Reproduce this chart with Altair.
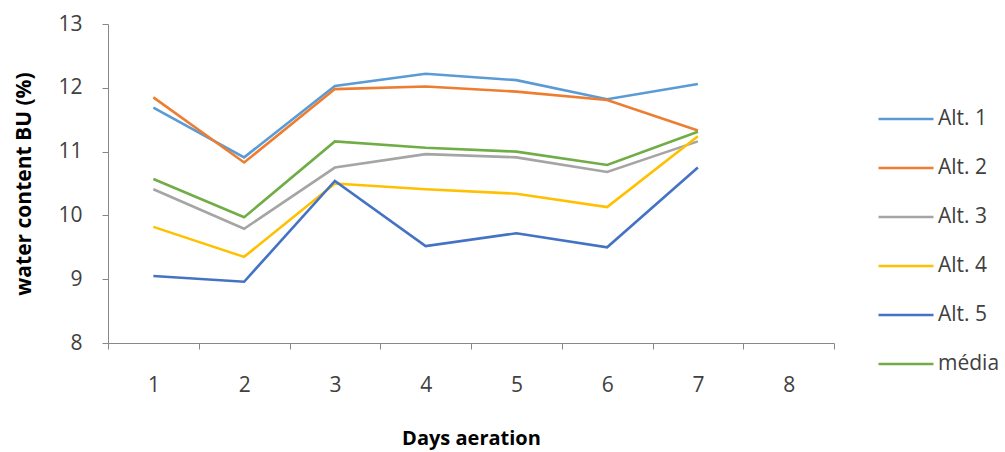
import altair as alt
import pandas as pd

# Days of aeration (x categories) and water content readings per series
days = [1, 2, 3, 4, 5, 6, 7]
all_days = [1, 2, 3, 4, 5, 6, 7, 8]
series_names = ["Alt. 1", "Alt. 2", "Alt. 3", "Alt. 4", "Alt. 5", "média"]
alt1 = [11.69, 10.91, 12.03, 12.22, 12.12, 11.82, 12.06]
alt2 = [11.85, 10.83, 11.98, 12.02, 11.94, 11.81, 11.33]
alt3 = [10.41, 9.79, 10.75, 10.96, 10.91, 10.68, 11.16]
alt4 = [9.82, 9.35, 10.50, 10.41, 10.34, 10.13, 11.24]
alt5 = [9.05, 8.96, 10.54, 9.52, 9.72, 9.50, 10.75]
media = [10.57, 9.97, 11.16, 11.06, 11.00, 10.79, 11.31]
colors = ["#5B9BD5", "#ED7D31", "#A5A5A5", "#FFC000", "#4472C4", "#70AD47"]

rows = []
for idx, (name, vals) in enumerate(zip(series_names, [alt1, alt2, alt3, alt4, alt5, media])):
    for d, v in zip(days, vals):
        rows.append({"day": d, "value": v, "series": name, "rank": idx})
df = pd.DataFrame(rows)

font = "Open Sans"
text_color = "#404040"

chart = alt.Chart(df).mark_line(strokeWidth=2.6).encode(
    x=alt.X(
        "day:O",
        scale=alt.Scale(type="band", domain=all_days, paddingInner=0, paddingOuter=0),
        bandPosition=0.5,
        axis=alt.Axis(
            title="Days aeration",
            tickBand="extent",
            labelAngle=0,
            labelFontSize=21,
            labelColor=text_color,
            labelPadding=25,
            titleFontSize=20,
            titleFontWeight="bold",
            titleColor="#000000",
            titlePadding=33,
            domainColor="#888888",
            tickColor="#888888",
            tickSize=6,
            grid=False,
        ),
    ),
    y=alt.Y(
        "value:Q",
        scale=alt.Scale(domain=[8, 13], nice=False, zero=False),
        axis=alt.Axis(
            title="water content BU (%)",
            values=[8, 9, 10, 11, 12, 13],
            labelFontSize=21,
            labelColor=text_color,
            labelPadding=20,
            titleFontSize=21,
            titleFontWeight="bold",
            titleColor="#000000",
            titlePadding=23,
            domainColor="#888888",
            tickColor="#888888",
            tickSize=6,
            grid=False,
        ),
    ),
    color=alt.Color(
        "series:N",
        scale=alt.Scale(domain=series_names, range=colors),
        sort=series_names,
        legend=alt.Legend(
            title=None,
            orient="none",
            legendX=769,
            legendY=66,
            symbolType="stroke",
            symbolSize=3025,
            symbolStrokeWidth=2.6,
            labelFontSize=21,
            labelColor=text_color,
            labelOffset=3,
            rowPadding=10,
        ),
    ),
    order=alt.Order("rank:Q"),
).properties(
    width=726,
    height=319,
    padding={"left": 108, "top": 24, "right": 171, "bottom": 109},
    autosize=alt.AutoSizeParams(type="none"),
).configure(
    font=font,
    background="white",
).configure_view(
    stroke=None
)

chart.save("out.html", embed_options={"renderer": "svg", "actions": False})
